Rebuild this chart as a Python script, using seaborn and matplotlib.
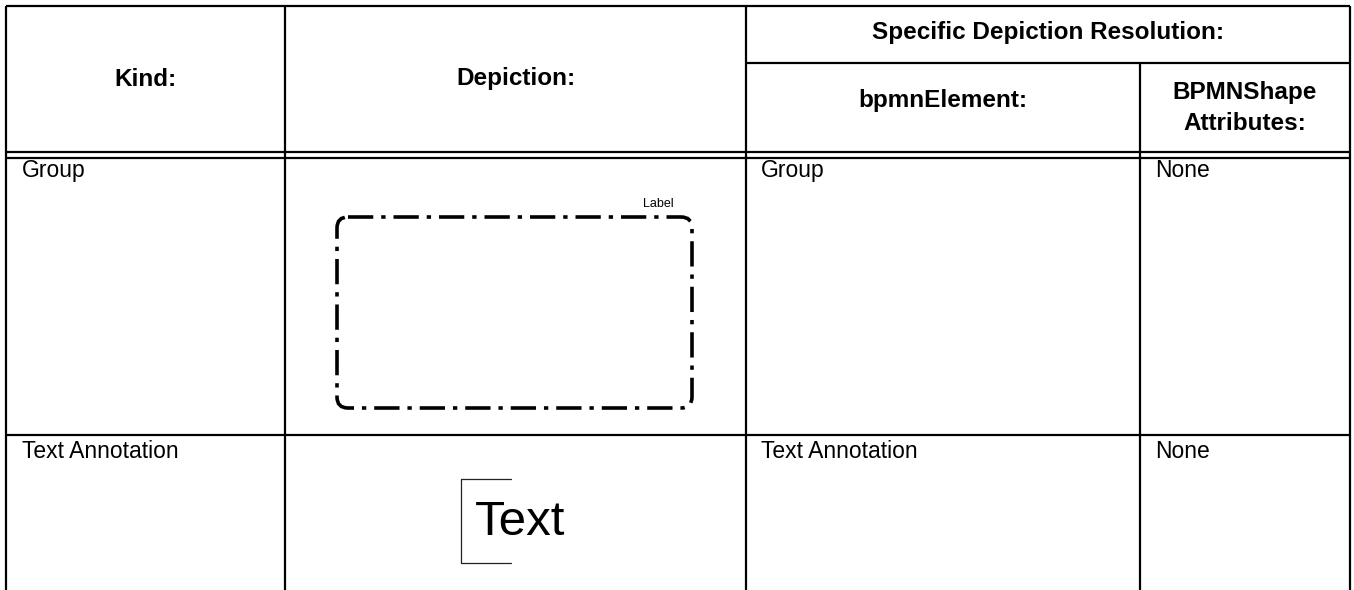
import matplotlib
matplotlib.use("Agg")
import matplotlib.pyplot as plt
from matplotlib.patches import FancyBboxPatch
import seaborn as sns

# ---- table content ----
kinds = ["Group", "Text Annotation"]
bpmn_elements = ["Group", "Text Annotation"]
shape_attributes = ["None", "None"]
header_main = ["Kind:", "Depiction:"]
header_group = "Specific Depiction Resolution:"
header_sub = ["bpmnElement:", "BPMNShape\nAttributes:"]
group_label = "Label"
annotation_text = "Text"

sns.set_theme(style="white")
plt.rcParams["font.family"] = ["Liberation Sans", "DejaVu Sans"]
plt.rcParams["text.color"] = "black"

W, H = 1354, 590
fig = plt.figure(figsize=(W / 100, H / 100), dpi=100)
ax = fig.add_axes([0, 0, 1, 1])
ax.set_xlim(0, W)
ax.set_ylim(H, 0)
ax.axis("off")

# layout (pixels)
xs = [6, 285, 746, 1140, 1350]
y_top, y_sub, y_dbl1, y_dbl2, y_row = 6, 63, 152, 158, 435
lw = 1.6
k = "black"

# outer / grid lines
ax.hlines(y_top, xs[0], xs[-1], color=k, lw=lw)
ax.hlines(y_sub, xs[2], xs[-1], color=k, lw=lw)
ax.hlines([y_dbl1, y_dbl2, y_row], xs[0], xs[-1], color=k, lw=lw)
for x in [xs[0], xs[1], xs[2], xs[4]]:
    ax.vlines(x, y_top, H, color=k, lw=lw)
ax.vlines(xs[3], y_sub, H, color=k, lw=lw)

hfs = 17.5
# headers
ax.text((xs[0] + xs[1]) / 2, 79, header_main[0], ha="center", va="center",
        fontsize=hfs, fontweight="bold")
ax.text((xs[1] + xs[2]) / 2, 79, header_main[1], ha="center", va="center",
        fontsize=hfs, fontweight="bold")
ax.text((xs[2] + xs[4]) / 2, 33, header_group, ha="center", va="center",
        fontsize=hfs, fontweight="bold")
ax.text((xs[2] + xs[3]) / 2, 100, header_sub[0], ha="center", va="center",
        fontsize=hfs, fontweight="bold")
ax.text((xs[3] + xs[4]) / 2, 108, header_sub[1], ha="center", va="center",
        fontsize=hfs, fontweight="bold", linespacing=1.45)

# body rows
bfs = 16.5
baselines = [177, 458]
for i in range(len(kinds)):
    ax.text(xs[0] + 16, baselines[i], kinds[i], ha="left", va="baseline", fontsize=bfs)
    ax.text(xs[2] + 15, baselines[i], bpmn_elements[i], ha="left", va="baseline", fontsize=bfs)
    ax.text(xs[3] + 15, baselines[i], shape_attributes[i], ha="left", va="baseline", fontsize=bfs)

# group depiction
box = FancyBboxPatch((337, 217), 355, 191,
                     boxstyle="round,pad=0,rounding_size=11",
                     fill=False, edgecolor=k, linewidth=2.6,
                     linestyle=(0, (7, 2.2, 1.2, 2.2)))
ax.add_patch(box)
ax.text(658, 204, group_label, ha="center", va="center", fontsize=9)

# text annotation depiction
ax.plot([511, 461, 461, 511], [479, 479, 563, 563], color="#222222", lw=0.9)
ax.text(475, 535, annotation_text, ha="left", va="baseline", fontsize=35.5)

fig.savefig("out.png", dpi=100, facecolor="white")
